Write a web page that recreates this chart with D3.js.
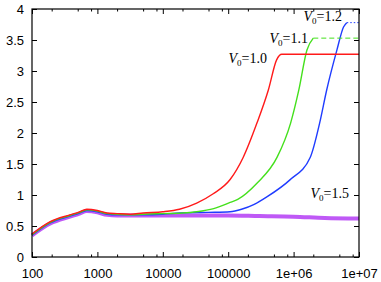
<!DOCTYPE html>
<html>
<head>
<meta charset="utf-8">
<script src="https://cdn.jsdelivr.net/npm/d3@7"></script>
<style>
  body { margin: 0; background: #fff; }
  svg { display: block; }
</style>
</head>
<body>
<div id="chart"></div>
<script>
// values (x = time, y = value)
const redX    = [100, 190, 380, 520, 690, 1000, 1400, 2000, 3200, 5000, 10000, 18000, 33000, 59000, 107000, 170000, 275000, 410000, 550000, 660000, 1e7];
const redY    = [0.37, 0.57, 0.68, 0.725, 0.77, 0.75, 0.71, 0.70, 0.69, 0.71, 0.73, 0.77, 0.87, 1.02, 1.25, 1.61, 2.16, 2.69, 3.18, 3.27, 3.27];
const greenX  = [100, 190, 380, 520, 690, 1000, 1400, 2000, 3200, 5000, 10000, 20000, 33000, 60000, 107000, 140000, 275000, 560000, 900000, 1200000, 1600000, 2000000, 1e7];
const greenY  = [0.36, 0.56, 0.67, 0.715, 0.76, 0.74, 0.70, 0.69, 0.68, 0.69, 0.70, 0.71, 0.73, 0.78, 0.88, 0.93, 1.19, 1.61, 2.16, 2.69, 3.34, 3.53, 3.53];
const blueX   = [100, 190, 380, 520, 690, 1000, 1400, 2000, 3200, 5000, 10000, 18000, 50000, 107000, 160000, 250000, 390000, 870000, 1800000, 2500000, 3200000, 4600000, 5800000, 6500000, 1e7];
const blueY   = [0.35, 0.55, 0.66, 0.705, 0.75, 0.73, 0.69, 0.68, 0.68, 0.68, 0.69, 0.71, 0.72, 0.73, 0.77, 0.85, 0.97, 1.24, 1.61, 2.16, 2.69, 3.34, 3.71, 3.78, 3.78];
const purpleX = [100, 190, 380, 520, 690, 1000, 1400, 2000, 3200, 5000, 10000, 30000, 100000, 300000, 1000000, 3000000, 1e7];
const purpleY = [0.35, 0.54, 0.65, 0.695, 0.74, 0.72, 0.68, 0.67, 0.67, 0.67, 0.67, 0.67, 0.67, 0.66, 0.65, 0.63, 0.62];

const seriesNames = ["1.0", "1.1", "1.2", "1.5"];
const xTicks = [100, 1000, 10000, 100000, 1e6, 1e7];
const xTickLabels = ["100", "1000", "10000", "100000", "1e+06", "1e+07"];
const yTicks = [0, 0.5, 1, 1.5, 2, 2.5, 3, 3.5, 4];
const yTickLabels = ["0", "0.5", "1", "1.5", "2", "2.5", "3", "3.5", "4"];

const width = 381, height = 282;
const margin = {top: 9, right: 22, bottom: 25, left: 32};

const svg = d3.select("#chart").append("svg")
    .attr("width", width)
    .attr("height", height);

const x = d3.scaleLog().domain([100, 1e7]).range([margin.left, width - margin.right]);
const y = d3.scaleLinear().domain([0, 4]).range([height - margin.bottom, margin.top]);

// minor ticks as they show up in the picture
let minor = [];
for (let e = 2; e < 7; e++) {
    [2, 5, 8].forEach(m => minor.push(m * Math.pow(10, e)));
}

// the curves
const series = [
    {xs: redX, ys: redY, color: "#ff1a1a", w: 1.4, dash: null},
    {xs: greenX, ys: greenY, color: "#44e01c", w: 1.4, dash: "5,3"},
    {xs: blueX, ys: blueY, color: "#1f3cff", w: 1.4, dash: "1.5,2"},
    {xs: purpleX, ys: purpleY, color: "#b43cf5", w: 4, dash: null}
];

const line = d3.line()
    .curve(d3.curveMonotoneX)
    .x(d => x(d[0]))
    .y(d => y(d[1]));

const plot = svg.append("g");
// draw purple first, then blue, green, red on top
series.slice().reverse().forEach(s => {
    let pts = s.xs.map((v, i) => [v, s.ys[i]]);
    if (s.dash) {
        plot.append("path")
            .attr("d", line(pts.slice(0, -1)))
            .attr("fill", "none")
            .attr("stroke", s.color)
            .attr("stroke-width", s.w);
        plot.append("path")
            .attr("d", line(pts.slice(-2)))
            .attr("fill", "none")
            .attr("stroke", s.color)
            .attr("stroke-width", 1)
            .attr("stroke-dasharray", s.dash);
    } else {
        plot.append("path")
            .attr("d", line(pts))
            .attr("fill", "none")
            .attr("stroke", s.color)
            .attr("stroke-width", s.w)
            .attr("stroke-opacity", s.w > 2 ? 0.85 : 1)
            .attr("stroke-linejoin", "round");
    }
});

// frame
svg.append("rect")
    .attr("x", margin.left)
    .attr("y", margin.top)
    .attr("width", width - margin.left - margin.right)
    .attr("height", height - margin.top - margin.bottom)
    .attr("fill", "none")
    .attr("stroke", "#000")
    .attr("stroke-width", 1.2);

// axes with inward ticks on all four sides
const fontStr = "Liberation Sans, Arial, sans-serif";

const gBottom = svg.append("g")
    .attr("transform", "translate(0," + (height - margin.bottom) + ")")
    .call(d3.axisBottom(x).tickValues(xTicks).tickSizeInner(-5).tickSizeOuter(0)
        .tickPadding(12).tickFormat((d, i) => xTickLabels[i]));
const gTop = svg.append("g")
    .attr("transform", "translate(0," + margin.top + ")")
    .call(d3.axisTop(x).tickValues(xTicks).tickSizeInner(-5).tickSizeOuter(0).tickFormat(""));
const gBottomMinor = svg.append("g")
    .attr("transform", "translate(0," + (height - margin.bottom) + ")")
    .call(d3.axisBottom(x).tickValues(minor).tickSizeInner(-2.5).tickSizeOuter(0).tickFormat(""));
const gTopMinor = svg.append("g")
    .attr("transform", "translate(0," + margin.top + ")")
    .call(d3.axisTop(x).tickValues(minor).tickSizeInner(-2.5).tickSizeOuter(0).tickFormat(""));
const gLeft = svg.append("g")
    .attr("transform", "translate(" + margin.left + ",0)")
    .call(d3.axisLeft(y).tickValues(yTicks).tickSizeInner(-5).tickSizeOuter(0)
        .tickPadding(8).tickFormat((d, i) => yTickLabels[i]));
const gRight = svg.append("g")
    .attr("transform", "translate(" + (width - margin.right) + ",0)")
    .call(d3.axisRight(y).tickValues(yTicks).tickSizeInner(-5).tickSizeOuter(0).tickFormat(""));

[gBottom, gTop, gBottomMinor, gTopMinor, gLeft, gRight].forEach(g => {
    g.select(".domain").remove();
    g.selectAll(".tick line").attr("stroke", "#000").attr("stroke-width", 1);
    g.selectAll("text")
        .attr("fill", "#000")
        .style("font-family", fontStr)
        .style("font-size", "13px");
});

// curve labels, V with subscript 0
const labels = [
    {name: seriesNames[0], x: 267, y: 63},
    {name: seriesNames[1], x: 308, y: 43},
    {name: seriesNames[2], x: 342, y: 21},
    {name: seriesNames[3], x: 349, y: 198}
];
labels.forEach(l => {
    const t = svg.append("text")
        .attr("x", l.x)
        .attr("y", l.y)
        .attr("text-anchor", "end")
        .style("font-family", "Liberation Serif, Times New Roman, serif")
        .style("font-size", "14px");
    t.append("tspan").style("font-style", "italic").text("V");
    t.append("tspan").attr("dy", 2.5).style("font-size", "9px").text("0");
    t.append("tspan").attr("dy", -2.5).text("=" + l.name);
});
</script>
</body>
</html>
